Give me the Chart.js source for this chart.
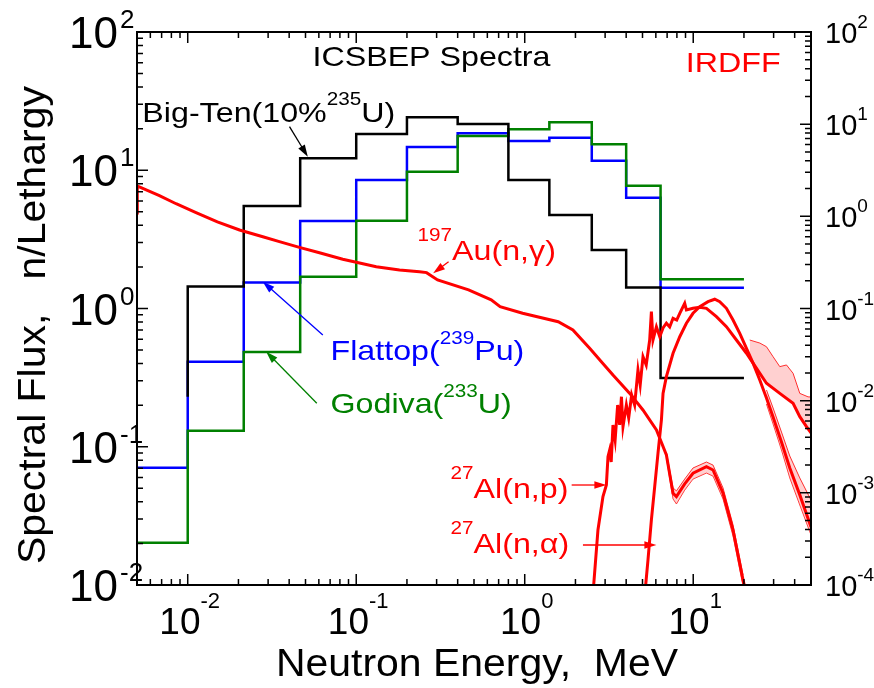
<!DOCTYPE html>
<html><head><meta charset="utf-8">
<script src="https://cdn.jsdelivr.net/npm/chart.js@4.4.1/dist/chart.umd.min.js"></script>
<style>html,body{margin:0;padding:0;background:#fff;overflow:hidden}canvas{display:block}</style>
</head><body>
<canvas id="c" width="874" height="688"></canvas>
<script>
// ---------- data ----------
const binEdges = [0.005, 0.01, 0.0215, 0.0465, 0.1, 0.2, 0.4, 0.8, 1.4, 2.5, 4.0, 6.4, 20];
const bigTenFlux = [null, 1.44, 5.51, 12.2, 18.3, 24.2, 21.6, 8.5, 4.75, 2.65, 1.42, 0.314];
const bigTenStartFlux = 0.23;
const flattopFlux = [0.0706, 0.412, 1.54, 4.29, 8.5, 14.7, 18.5, 16.3, 17.2, 11.7, 6.33, 1.41];
const godivaFlux = [0.0202, 0.1306, 0.484, 1.70, 4.32, 9.76, 17.7, 19.8, 22.2, 15.4, 7.73, 1.63];

const auEnergy = [0.005, 0.00502, 0.00679, 0.00853, 0.0112, 0.0150, 0.0203, 0.0279, 0.0350, 0.0460, 0.0605, 0.0832, 0.100, 0.1315, 0.1807, 0.2376, 0.2616, 0.304, 0.4643, 0.6326, 0.7142, 0.9716, 1.58, 1.932, 2.429, 2.85, 3.34, 4.20, 5.03, 6.05, 6.93, 7.59, 7.95, 8.90, 9.97, 11.98, 13.11, 15.03, 17.23, 19.76, 20.4];
const auXs = [1.086, 2.13, 1.68, 1.37, 1.10, 0.869, 0.711, 0.601, 0.531, 0.461, 0.403, 0.342, 0.317, 0.284, 0.262, 0.251, 0.245, 0.204, 0.159, 0.124, 0.1046, 0.0887, 0.0719, 0.0585, 0.037, 0.0265, 0.019, 0.0120, 0.00792, 0.00481, 0.00258, 0.00099, 0.00091, 0.00125, 0.00163, 0.00192, 0.00177, 0.00099, 0.000395, 0.000113, 0.000089];
const auBandEnergy = [6.93, 7.59, 7.95, 8.90, 9.97, 11.98, 13.11, 15.03, 17.23, 19.76];
const auBandHigh = [2.77e-3, 1.13e-3, 1.05e-3, 1.41e-3, 1.86e-3, 2.16e-3, 2.00e-3, 1.13e-3, 4.48e-4, 1.28e-4];
const auBandLow = [2.39e-3, 8.58e-4, 7.57e-4, 1.07e-3, 1.41e-3, 1.64e-3, 1.52e-3, 8.58e-4, 3.40e-4, 9.75e-5];

const alnpEnergy = [2.566, 2.72, 2.913, 3.052, 3.12, 3.193, 3.26, 3.34, 3.44, 3.56, 3.66, 3.75, 3.83, 4.01, 4.14, 4.31, 4.49, 4.70, 4.845, 5.035, 5.26, 5.516, 5.646, 5.77, 6.046, 6.33, 6.62, 6.93, 7.25, 7.59, 7.98, 8.32, 8.90, 9.11, 9.97, 10.93, 11.98, 13.73, 15.74, 18.05, 20.70, 22.65, 27.21, 32.64, 39.14, 42.9, 47.0, 50];
const alnpXs = [1e-4, 3.95e-4, 9.1e-4, 1.22e-3, 2.47e-3, 2.92e-3, 2.16e-3, 5.45e-3, 3.74e-3, 8.97e-3, 5.45e-3, 0.01104, 5.22e-3, 8.97e-3, 6.49e-3, 0.01153, 8.97e-3, 0.02153, 0.0148, 0.030, 0.0244, 0.0455, 0.0923, 0.0455, 0.0635, 0.0494, 0.0615, 0.0692, 0.0631, 0.0783, 0.075, 0.0887, 0.1139, 0.0964, 0.1005, 0.1031, 0.1005, 0.0815, 0.0635, 0.0455, 0.0327, 0.0255, 0.01545, 0.0120, 0.00937, 0.0067, 0.00522, 0.00446];
const alnpBandEnergy = [21.65, 24.83, 27.21, 29.78, 32.64, 35.77, 39.14, 42.9, 48.05, 50];
const alnpBandHigh = [0.0455, 0.0422, 0.0385, 0.030, 0.0234, 0.0244, 0.0198, 0.0120, 0.0110, 0.01096];
const alnpBandLow = [0.0290, 0.0190, 0.01556, 0.01374, 0.01211, 0.0107, 0.0092, 0.00665, 0.00481, 0.00435];

const alnaEnergy = [5.15, 5.223, 5.39, 5.646, 5.907, 6.18, 6.475, 6.62, 6.93, 7.59, 8.32, 9.11, 9.97, 10.93, 12.24, 13.42, 14.37, 15.74, 17.23, 18.89, 20.70, 22.65, 24.83, 27.21, 29.78, 33.40, 37.42, 42.9, 50];
const alnaXs = [7.8e-5, 1e-4, 1.87e-4, 5.08e-4, 1.17e-3, 2.69e-3, 6.17e-3, 0.0120, 0.0182, 0.0327, 0.0494, 0.0691, 0.0887, 0.1046, 0.1186, 0.126, 0.1186, 0.1005, 0.075, 0.0538, 0.037, 0.0255, 0.01676, 0.0107, 0.00665, 0.00356, 0.00186, 0.00095, 4.26e-4];
const alnaBandEnergy = [27.21, 29.78, 33.40, 37.42, 42.9, 50];
const alnaBandHigh = [0.01306, 8.33e-3, 4.57e-3, 2.51e-3, 1.45e-3, 8.36e-4];
const alnaBandLow = [9.2e-3, 5.59e-3, 2.92e-3, 1.45e-3, 7.38e-4, 3.49e-4];

const xTickValues = [0.01, 0.1, 1, 10];
const yTickValues = [0.01, 0.1, 1, 10, 100];
const y2TickValues = [1e-4, 1e-3, 1e-2, 1e-1, 1, 10, 100];

// ---------- helpers ----------
function steps(edges, vals, startVal) {
  const pts = [];
  if (startVal != null) {
    const i0 = vals.findIndex(v => v != null);
    pts.push({x: edges[i0], y: startVal});
  }
  vals.forEach((v, i) => {
    if (v == null) return;
    pts.push({x: edges[i], y: v});
    pts.push({x: edges[i + 1], y: v});
  });
  return pts;
}
function pairs(xs, ys) { return xs.map((x, i) => ({x: x, y: ys[i]})); }

const RED = '#ff0000', BLUE = '#0000ff', GREEN = '#008000', BLACK = '#000000';
const PINK = 'rgba(255,120,120,0.35)';

const datasets = [
  {label: '27Al(n,p)', data: pairs(alnpEnergy, alnpXs), yAxisID: 'y2', borderColor: RED, borderWidth: 3},
  {label: '27Al(n,a)', data: pairs(alnaEnergy, alnaXs), yAxisID: 'y2', borderColor: RED, borderWidth: 3},
  {label: '197Au(n,g)', data: pairs(auEnergy, auXs), yAxisID: 'y2', borderColor: RED, borderWidth: 3},
  {label: 'Au unc hi', data: pairs(auBandEnergy, auBandHigh), yAxisID: 'y2', borderColor: RED, borderWidth: 0.8, fill: '+1', backgroundColor: PINK},
  {label: 'Au unc lo', data: pairs(auBandEnergy, auBandLow), yAxisID: 'y2', borderColor: RED, borderWidth: 0.8},
  {label: 'Al(n,a) unc hi', data: pairs(alnaBandEnergy, alnaBandHigh), yAxisID: 'y2', borderColor: RED, borderWidth: 0.8, fill: '+1', backgroundColor: PINK},
  {label: 'Al(n,a) unc lo', data: pairs(alnaBandEnergy, alnaBandLow), yAxisID: 'y2', borderColor: RED, borderWidth: 0.8},
  {label: 'Al(n,p) unc hi', data: pairs(alnpBandEnergy, alnpBandHigh), yAxisID: 'y2', borderColor: RED, borderWidth: 0.8, fill: '+1', backgroundColor: PINK},
  {label: 'Al(n,p) unc lo', data: pairs(alnpBandEnergy, alnpBandLow), yAxisID: 'y2', borderColor: 'rgba(0,0,0,0)', borderWidth: 0},
  {label: 'Big-Ten', data: steps(binEdges, bigTenFlux, bigTenStartFlux), yAxisID: 'y', borderColor: BLACK, borderWidth: 2.5},
  {label: 'Godiva', data: steps(binEdges, godivaFlux), yAxisID: 'y', borderColor: GREEN, borderWidth: 2.5},
  {label: 'Flattop', data: steps(binEdges, flattopFlux), yAxisID: 'y', borderColor: BLUE, borderWidth: 2.5}
];
datasets.forEach(d => { d.pointRadius = 0; d.tension = 0; if (d.fill === undefined) d.fill = false; d.borderJoinStyle = 'miter'; });

const FONT = '"Liberation Sans", Arial, Helvetica, sans-serif';
function drawRich(ctx, parts, x, y, opt) {
  const sx = opt.sx || 1;
  let w = 0;
  const widths = parts.map(p => { ctx.font = p.size + 'px ' + FONT; const m = ctx.measureText(p.text).width; w += m; return m; });
  ctx.save();
  ctx.translate(x, y);
  if (opt.rotate) ctx.rotate(opt.rotate);
  let start = 0;
  if (opt.align === 'center') start = -w * sx / 2;
  else if (opt.align === 'right') start = -w * sx;
  ctx.translate(start, 0);
  ctx.scale(sx, 1);
  ctx.fillStyle = opt.color || '#000';
  ctx.textBaseline = 'alphabetic';
  ctx.textAlign = 'left';
  let cx = 0;
  parts.forEach((p, i) => { ctx.font = p.size + 'px ' + FONT; ctx.fillText(p.text, cx, -(p.rise || 0)); cx += widths[i]; });
  ctx.restore();
}
function arrow(ctx, x1, y1, x2, y2, color, lw) {
  const ang = Math.atan2(y2 - y1, x2 - x1);
  const hl = 12, hw = 3.8;
  ctx.save();
  ctx.strokeStyle = color; ctx.fillStyle = color; ctx.lineWidth = lw;
  ctx.beginPath(); ctx.moveTo(x1, y1);
  ctx.lineTo(x2 - Math.cos(ang) * hl * 0.8, y2 - Math.sin(ang) * hl * 0.8); ctx.stroke();
  ctx.beginPath();
  ctx.moveTo(x2, y2);
  ctx.lineTo(x2 - Math.cos(ang) * hl - Math.sin(ang) * hw, y2 - Math.sin(ang) * hl + Math.cos(ang) * hw);
  ctx.lineTo(x2 - Math.cos(ang) * hl + Math.sin(ang) * hw, y2 - Math.sin(ang) * hl - Math.cos(ang) * hw);
  ctx.closePath(); ctx.fill();
  ctx.restore();
}
const SX = 1.15;
const SUP = 18, SUPR = 16;
const labels = [
  {parts: [{text: 'ICSBEP Spectra', size: 28}], e: 0.0550, v: 56.8, color: BLACK},
  {parts: [{text: 'IRDFF', size: 28}], e: 9.03, v: 51.4, color: RED},
  {parts: [{text: 'Big-Ten(10%', size: 28}, {text: '235', size: SUP, rise: 17}, {text: 'U)', size: 28}], e: 0.00538, v: 22.3, color: BLACK},
  {parts: [{text: '197', size: SUP, rise: 19}, {text: 'Au(n,\u03b3)', size: 28}], e: 0.2312, v: 2.244, color: RED},
  {parts: [{text: 'Flattop(', size: 28}, {text: '239', size: SUP, rise: SUPR}, {text: 'Pu)', size: 28}], e: 0.07039, v: 0.4241, color: BLUE},
  {parts: [{text: 'Godiva(', size: 28}, {text: '233', size: SUP, rise: SUPR}, {text: 'U)', size: 28}], e: 0.07039, v: 0.1754, color: GREEN},
  {parts: [{text: '27', size: SUP, rise: 19}, {text: 'Al(n,p)', size: 28}], e: 0.3631, v: 0.04259, color: RED},
  {parts: [{text: '27', size: SUP, rise: 19}, {text: 'Al(n,\u03b1)', size: 28}], e: 0.3631, v: 0.01704, color: RED}
];
const arrows = [
  {from: [0.04017, 20.65], to: [0.0516, 12.53], color: BLACK},
  {from: [0.3533, 2.18], to: [0.2861, 1.797], color: RED},
  {from: [0.06334, 0.6433], to: [0.02788, 1.563], color: BLUE},
  {from: [0.05834, 0.2062], to: [0.02921, 0.4871], color: GREEN},
  {from: [1.899, 0.05288], to: [3.052, 0.05288], color: RED},
  {from: [2.216, 0.01947], to: [6.046, 0.01947], color: RED}
];

function expText(v) { const e = Math.round(Math.log10(v)); return String(e); }

const decor = {
  id: 'decor',
  afterDraw(chart) {
    const ctx = chart.ctx, a = chart.chartArea;
    const X = chart.scales.x, Y = chart.scales.y, Y2 = chart.scales.y2;
    ctx.save();
    ctx.strokeStyle = '#000';
    ctx.lineWidth = 1.5;
    ctx.beginPath();
    for (let d = -4; d <= 2; d++) for (let m = 1; m <= 9; m++) {
      const v = m * Math.pow(10, d);
      const L = m === 1 ? 11 : 6;
      if (v >= X.min * 0.9999 && v <= X.max * 1.0001) {
        const p = X.getPixelForValue(v);
        ctx.moveTo(p, a.bottom); ctx.lineTo(p, a.bottom - L);
        ctx.moveTo(p, a.top); ctx.lineTo(p, a.top + L);
      }
      if (v >= Y.min * 0.9999 && v <= Y.max * 1.0001) {
        const p = Y.getPixelForValue(v);
        ctx.moveTo(a.left, p); ctx.lineTo(a.left + L, p);
      }
      if (v >= Y2.min * 0.9999 && v <= Y2.max * 1.0001) {
        const p = Y2.getPixelForValue(v);
        ctx.moveTo(a.right, p); ctx.lineTo(a.right - L, p);
      }
    }
    ctx.stroke();
    ctx.lineWidth = 2;
    ctx.strokeRect(a.left, a.top, a.right - a.left, a.bottom - a.top);
    ctx.restore();

    // tick labels
    X.ticks.forEach(t => {
      const p = X.getPixelForValue(t.value);
      drawRich(ctx, [{text: '10', size: 37}, {text: expText(t.value), size: 22, rise: 26}], p + 2, a.bottom + 49, {align: 'center'});
    });
    Y.ticks.forEach(t => {
      const p = Y.getPixelForValue(t.value);
      const ex = expText(t.value);
      drawRich(ctx, [{text: '10', size: 44}], a.left - 19, p + 16, {align: 'right'});
      drawRich(ctx, [{text: ex, size: 26}], a.left - 17, p - 4, {align: 'left'});
    });
    Y2.ticks.forEach(t => {
      const p = Y2.getPixelForValue(t.value);
      drawRich(ctx, [{text: '10', size: 29}, {text: expText(t.value), size: 19, rise: 15}], a.right + 14, p + 11, {align: 'left'});
    });
    // axis titles
    drawRich(ctx, [{text: 'Neutron Energy,  MeV', size: 39}], (a.left + a.right) / 2 + 3, 676, {align: 'center', sx: 1.05});
    drawRich(ctx, [{text: 'Spectral Flux,   n/Lethargy', size: 39}], 45, 325, {align: 'center', sx: 1.05, rotate: -Math.PI / 2});

    // annotations
    labels.forEach(l => {
      drawRich(ctx, l.parts, X.getPixelForValue(l.e), Y.getPixelForValue(l.v), {align: 'left', color: l.color, sx: SX});
    });
    arrows.forEach(r => {
      arrow(ctx, X.getPixelForValue(r.from[0]), Y.getPixelForValue(r.from[1]), X.getPixelForValue(r.to[0]), Y.getPixelForValue(r.to[1]), r.color, 1.3);
    });
  }
};

function fixedTicks(vals) { return s => { s.ticks = vals.map(v => ({value: v, major: true})); }; }

new Chart(document.getElementById('c').getContext('2d'), {
  type: 'line',
  data: {datasets: datasets},
  options: {
    responsive: false,
    animation: false,
    layout: {padding: {top: 32, left: 0, right: 0, bottom: 0}},
    plugins: {legend: {display: false}, tooltip: {enabled: false}},
    scales: {
      x: {type: 'logarithmic', min: 0.005, max: 50, grid: {display: false}, border: {display: false}, ticks: {display: false},
          afterBuildTicks: fixedTicks(xTickValues), afterFit: s => { s.height = 103; }},
      y: {type: 'logarithmic', position: 'left', min: 0.01, max: 100, grid: {display: false}, border: {display: false}, ticks: {display: false},
          afterBuildTicks: fixedTicks(yTickValues), afterFit: s => { s.width = 137; }},
      y2: {type: 'logarithmic', position: 'right', min: 1e-4, max: 100, grid: {display: false}, border: {display: false}, ticks: {display: false},
          afterBuildTicks: fixedTicks(y2TickValues), afterFit: s => { s.width = 63; }}
    }
  },
  plugins: [decor]
});
</script>
</body></html>
